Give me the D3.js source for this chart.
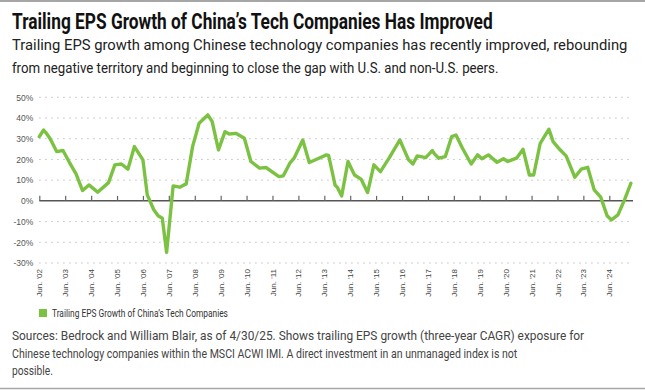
<!DOCTYPE html>
<html>
<head>
<meta charset="utf-8">
<script src="https://cdn.jsdelivr.net/npm/d3@7"></script>
<style>
  body { margin: 0; background: #fff; }
  svg { display: block; }
</style>
</head>
<body>
<div id="chart"></div>
<script>
// Series: trailing EPS growth (%)
const months = [
  "2002-06","2002-08","2002-09","2002-11","2003-02","2003-05","2003-08","2003-11",
  "2004-02","2004-05","2004-09","2005-02","2005-05","2005-08","2005-11","2006-02",
  "2006-06","2006-08","2006-11","2007-01","2007-03","2007-05","2007-08","2007-11",
  "2008-02","2008-05","2008-08","2008-12","2009-02","2009-05","2009-08","2009-10",
  "2010-01","2010-05","2010-08","2010-12","2011-03","2011-09","2011-11","2012-02",
  "2012-04","2012-08","2012-11","2013-03","2013-07","2013-08","2013-11","2013-12",
  "2014-02","2014-05","2014-08","2014-11","2015-02","2015-05","2015-08","2015-12",
  "2016-05","2016-09","2016-11","2017-01","2017-05","2017-08","2017-09","2017-11",
  "2018-02","2018-05","2018-07","2018-10","2019-02","2019-05","2019-07","2019-10",
  "2020-02","2020-05","2020-07","2020-11","2021-02","2021-05","2021-07","2021-10",
  "2022-02","2022-04","2022-07","2022-10","2023-02","2023-05","2023-08","2023-11",
  "2024-02","2024-05","2024-07","2024-10","2025-01","2025-04"
];
const epsGrowth = [
  31, 34.2, 33, 30, 23.8, 24.3, 18.5, 13,
  5, 7.7, 4.2, 8.8, 17.4, 17.8, 15.3, 26.2,
  19.8, 2.9, -4.3, -7.2, -8.4, -24.9, 7.2, 6.6,
  8.2, 26.2, 37.5, 41.5, 38.3, 24.6, 33.4, 32.3,
  32.6, 30.2, 19, 15.8, 16.1, 11.7, 12.1, 18.2,
  20.6, 29.4, 18.5, 20.3, 22.2, 21.9, 7.5, 6.6,
  2.4, 19, 12.5, 10.5, 4, 17.4, 14.1, 20.6,
  29.4, 19.8, 17.8, 21.7, 20.9, 24.3, 22.7, 20.6,
  21.4, 31, 31.8, 25.4, 17.8, 22.2, 20.3, 22.2,
  18.6, 20.3, 19, 20.6, 24.9, 12.5, 12.5, 27.8,
  34.6, 28.6, 24.9, 21.7, 11.4, 15.3, 16.2, 5.3,
  1.8, -7.2, -9.2, -6.8, 0.5, 8.5
];
const yTicks = [50, 40, 30, 20, 10, 0, -10, -20, -30];
const tickYears = d3.range(2002, 2025);

const title = "Trailing EPS Growth of China\u2019s Tech Companies Has Improved";
const subtitle = [
  "Trailing EPS growth among Chinese technology companies has recently improved, rebounding",
  "from negative territory and beginning to close the gap with U.S. and non-U.S. peers."
];
const legendLabel = "Trailing EPS Growth of China\u2019s Tech Companies";
const footnote = [
  "Sources: Bedrock and William Blair, as of 4/30/25. Shows trailing EPS growth (three-year CAGR) exposure for",
  "Chinese technology companies within the MSCI ACWI IMI. A direct investment in an unmanaged index is not",
  "possible."
];

const W = 645, H = 391;
const green = "#7cc242";
const font = "Roboto, 'Liberation Sans', sans-serif";
const parse = d3.timeParse("%Y-%m");
const data = months.map((m, i) => ({date: parse(m), value: epsGrowth[i]}));

const svg = d3.select("#chart").append("svg")
  .attr("width", W).attr("height", H);

// squeeze a text horizontally to a target width (the original uses a condensed face)
function fitText(g, x, y, txt, size, width, opts) {
  const t = g.append("text")
    .attr("font-family", font).attr("font-size", size)
    .attr("font-weight", opts.weight || "normal")
    .attr("fill", opts.fill || "#222")
    .text(txt);
  const w = t.node().getComputedTextLength();
  t.attr("transform", `translate(${x},${y}) scale(${width / w},1)`);
  return t;
}

// Frame lines
svg.append("line").attr("x1", 0).attr("x2", W).attr("y1", 1).attr("y2", 1)
  .attr("stroke", "#a6a6a6").attr("stroke-width", 2);
svg.append("line").attr("x1", 0).attr("x2", W).attr("y1", 388.5).attr("y2", 388.5)
  .attr("stroke", "#a6a6a6").attr("stroke-width", 1.5);

// Header text
fitText(svg, 12, 28.5, title, 22, 481, {weight: "bold", fill: "#111"});
subtitle.forEach((s, i) =>
  fitText(svg, 12, 50 + i * 22.5, s, 15.5, i === 0 ? 616 : 487, {fill: "#222"}));

// Scales
const x = d3.scaleTime()
  .domain([parse("2002-06"), parse("2025-05")])
  .range([39.3, 633]);
const y = d3.scaleLinear()
  .domain([-30, 50])
  .range([263, 97.3]);

// Grid lines
svg.append("g").selectAll("line").data(yTicks.filter(d => d !== 0)).enter().append("line")
  .attr("x1", x.range()[0]).attr("x2", x.range()[1])
  .attr("y1", d => y(d)).attr("y2", d => y(d))
  .attr("stroke", "#b5b5b5").attr("stroke-width", 1)
  .attr("stroke-dasharray", "1.3,4.7");

// Y axis labels
const yAxis = svg.append("g")
  .attr("transform", `translate(${x.range()[0]},0)`)
  .call(d3.axisLeft(y).tickValues(yTicks).tickSize(0).tickPadding(6).tickFormat(d => d + "%"));
yAxis.select(".domain").remove();
yAxis.selectAll("text")
  .attr("font-family", "Liberation Sans, sans-serif")
  .attr("font-size", 8.5).attr("fill", "#555");

// Zero axis with upward ticks
const xAxis = svg.append("g")
  .attr("transform", `translate(0,${y(0)})`)
  .call(d3.axisTop(x)
    .tickValues(tickYears.map(yr => new Date(yr, 5, 1)))
    .tickSize(5).tickFormat(""));
xAxis.select(".domain").attr("stroke", "#555").attr("stroke-width", 1.5)
  .attr("d", `M${x.range()[0]},0H${x.range()[1]}`);
xAxis.selectAll(".tick line").attr("stroke", "#666").attr("stroke-width", 1.2);

// Rotated year labels below the plot
const xLabels = svg.append("g")
  .attr("transform", `translate(0,${y(-30) + 6})`)
  .call(d3.axisBottom(x)
    .tickValues(tickYears.map(yr => new Date(yr, 5, 1)))
    .tickSize(0)
    .tickFormat(d => "Jun. '" + d3.timeFormat("%y")(d)));
xLabels.select(".domain").remove();
xLabels.selectAll("text")
  .attr("font-family", "Liberation Sans, sans-serif")
  .attr("font-size", 8).attr("fill", "#444")
  .attr("text-anchor", "end")
  .attr("transform", "rotate(-90)")
  .attr("x", 0).attr("y", 0).attr("dx", 0).attr("dy", "0.32em");

// Series line
const line = d3.line()
  .x(d => x(d.date))
  .y(d => y(d.value));
svg.append("path")
  .datum(data)
  .attr("fill", "none")
  .attr("stroke", green)
  .attr("stroke-width", 3.4)
  .attr("stroke-linejoin", "round")
  .attr("stroke-linecap", "round")
  .attr("d", line);

// Legend
svg.append("rect").attr("x", 39).attr("y", 309).attr("width", 8).attr("height", 8)
  .attr("fill", green);
fitText(svg, 52, 316.5, legendLabel, 10, 176, {fill: "#333"});

// Footnote
footnote.forEach((s, i) =>
  fitText(svg, 12, 340 + i * 17.5, s, 12.5, [573, 506, 41][i], {fill: "#444"}));
</script>
</body>
</html>
